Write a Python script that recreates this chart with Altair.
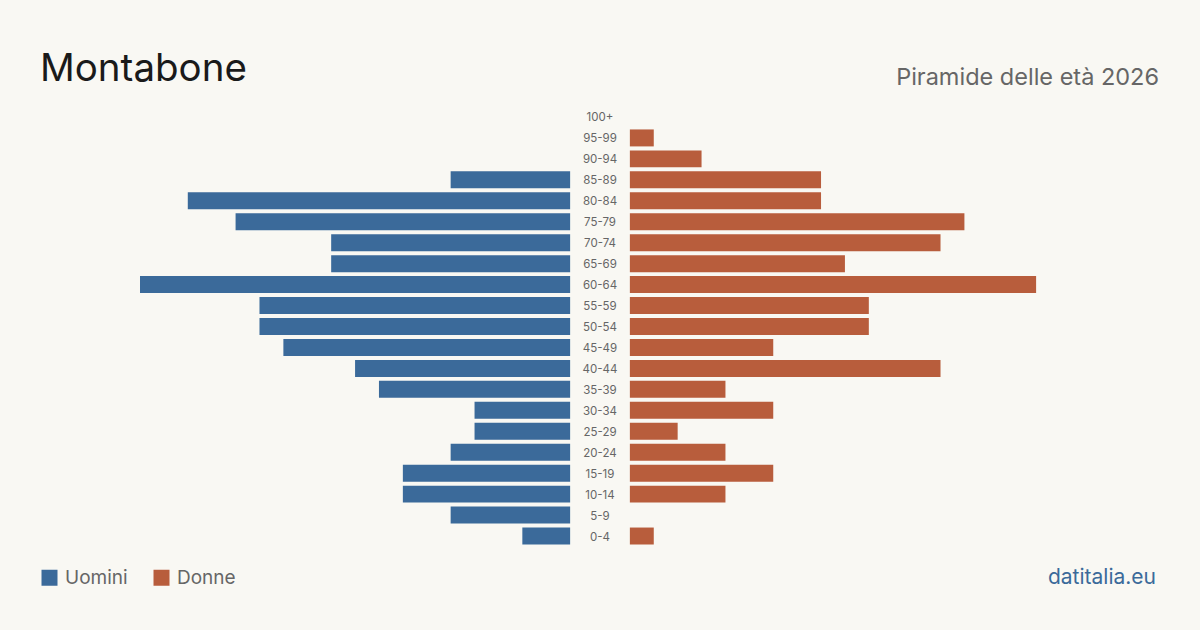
import altair as alt
import pandas as pd

ages = ["100+", "95-99", "90-94", "85-89", "80-84", "75-79", "70-74", "65-69",
        "60-64", "55-59", "50-54", "45-49", "40-44", "35-39", "30-34", "25-29",
        "20-24", "15-19", "10-14", "5-9", "0-4"]
uomini = [0, 0, 0, 5, 16, 14, 10, 10, 18, 13, 13, 12, 9, 8, 4, 4, 5, 7, 7, 5, 2]
donne = [0, 1, 3, 8, 8, 14, 13, 9, 17, 10, 10, 6, 13, 4, 6, 2, 4, 6, 4, 0, 1]

BG = "#f9f8f3"
BLUE = "#3b6a9a"
ORANGE = "#b85d3c"
FONT = "Inter"

rows = []
for a, u, d in zip(ages, uomini, donne):
    rows.append({"age": a, "sesso": "Uomini", "v": u})
    rows.append({"age": a, "sesso": "Donne", "v": d})
df = pd.DataFrame(rows)
gap = 1.25
maxv = 18

x_scale = alt.Scale(domain=[-(maxv + gap), maxv + gap], range=[140, 1060])
y_scale = alt.Scale(domain=ages, range=[106.5, 546.5], paddingInner=0.19, paddingOuter=0.095)

bars = alt.Chart(df).transform_filter("datum.v > 0").transform_calculate(
    x1=f"datum.sesso == 'Uomini' ? -{gap} - datum.v : {gap}",
    x2=f"datum.sesso == 'Uomini' ? -{gap} : {gap} + datum.v",
).mark_bar().encode(
    x=alt.X("x1:Q", scale=x_scale, axis=None),
    x2="x2:Q",
    y=alt.Y("age:N", scale=y_scale, axis=None, sort=ages),
    color=alt.Color("sesso:N", scale=alt.Scale(domain=["Uomini", "Donne"], range=[BLUE, ORANGE]),
                    legend=alt.Legend(orient="none", legendX=40, legendY=568, direction="horizontal",
                                      title=None, symbolType="square", symbolSize=256,
                                      symbolStrokeWidth=0, symbolOpacity=1,
                                      labelFontSize=19, labelColor="#666666", labelFont=FONT,
                                      labelOffset=6, columnPadding=24)),
)

labels_df = pd.DataFrame({"age": ages})
labels = alt.Chart(labels_df).mark_text(font=FONT, fontSize=11.5, color="#666666", align="center",
                                        baseline="middle", dy=1.5).encode(
    x=alt.value(600),
    y=alt.Y("age:N", scale=y_scale, axis=None, sort=ages),
    text="age:N",
)

one = pd.DataFrame({"t": ["Montabone"]})
title = alt.Chart(one).mark_text(font=FONT, fontSize=38.5, color="#1a1a1a", align="left",
                                 baseline="alphabetic").encode(
    x=alt.value(40), y=alt.value(81), text="t:N")

sub = alt.Chart(pd.DataFrame({"t": ["Piramide delle età 2026"]})).mark_text(
    font=FONT, fontSize=23.5, color="#666666", align="right", baseline="alphabetic").encode(
    x=alt.value(1159), y=alt.value(85), text="t:N")

src = alt.Chart(pd.DataFrame({"t": ["datitalia.eu"]})).mark_text(
    font=FONT, fontSize=21, color=BLUE, align="right", baseline="alphabetic").encode(
    x=alt.value(1156), y=alt.value(584), text="t:N")

chart = alt.layer(bars, labels, title, sub, src).properties(
    width=1200, height=630, background=BG, padding=0,
    autosize=alt.AutoSizeParams(type="none"),
).configure_view(stroke=None)

chart.save("out.html", embed_options={"renderer": "svg", "actions": False})
